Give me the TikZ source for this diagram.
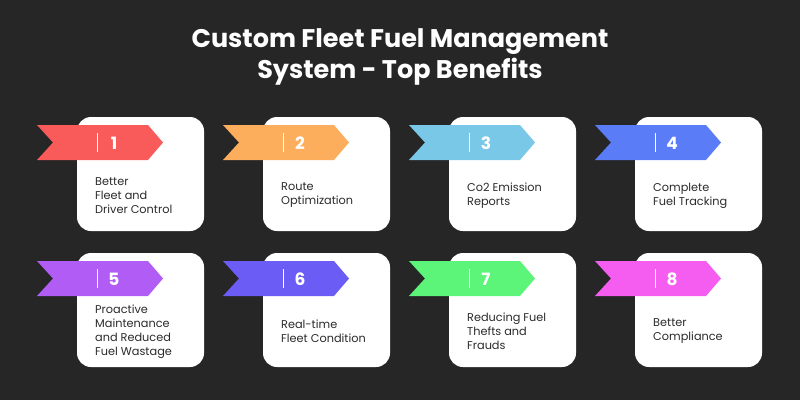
\documentclass[tikz,border=0pt]{standalone}
\usepackage{fontspec}
\setmainfont{Poppins}
\definecolor{bg}{HTML}{262626}
\definecolor{txt}{HTML}{2B2B2B}
\definecolor{c1}{HTML}{F95A5A}
\definecolor{c2}{HTML}{FDAE5D}
\definecolor{c3}{HTML}{79C8E8}
\definecolor{c4}{HTML}{5B7CF7}
\definecolor{c5}{HTML}{B05CF5}
\definecolor{c6}{HTML}{6A5CF5}
\definecolor{c7}{HTML}{5CF57A}
\definecolor{c8}{HTML}{F55CF0}
\tikzset{
  card/.style={fill=white, rounded corners=14pt},
  benefit/.style={text=txt, font=\fontsize{11.3}{14}\selectfont, align=left, anchor=west, inner sep=0pt},
  num/.style={text=white, font=\fontsize{17}{17}\selectfont\bfseries, inner sep=0pt},
}
\begin{document}
\begin{tikzpicture}[x=1pt,y=-1pt]
  \fill[bg] (0,0) rectangle (800,400);
  \useasboundingbox (0,0) rectangle (800,400);
  \node[text=white, font=\fontsize{25.5}{31}\selectfont\bfseries, align=center] (title) at (400,57)
    {Custom Fleet Fuel Management\\System - Top Benefits};
  \foreach \n/\x/\y/\col/\lbl in {
    1/77/117/c1/{Better\\Fleet and\\Driver Control},
    2/263/117/c2/{Route\\Optimization},
    3/449/117/c3/{Co2 Emission\\Reports},
    4/635/117/c4/{Complete\\Fuel Tracking},
    5/77/253/c5/{Proactive\\Maintenance\\and Reduced\\Fuel Wastage},
    6/263/253/c6/{Real-time\\Fleet Condition},
    7/449/253/c7/{Reducing Fuel\\Thefts and\\Frauds},
    8/635/253/c8/{Better\\Compliance}} {
    \fill[card] (\x,\y) rectangle ++(127,114);
    \fill[\col] (\x-40,\y+8) -- (\x+71,\y+8) -- (\x+86,\y+25.5) -- (\x+71,\y+43)
      -- (\x-40,\y+43) -- (\x-24,\y+25.5) -- cycle;
    \draw[white, line width=0.8pt] (\x+20,\y+16) -- (\x+20,\y+35);
    \node[num] (num\n) at (\x+37,\y+26) {\n};
    \node[benefit] (lbl\n) at (\x+18,\y+78.5) {\lbl};
  }
\end{tikzpicture}
\end{document}
